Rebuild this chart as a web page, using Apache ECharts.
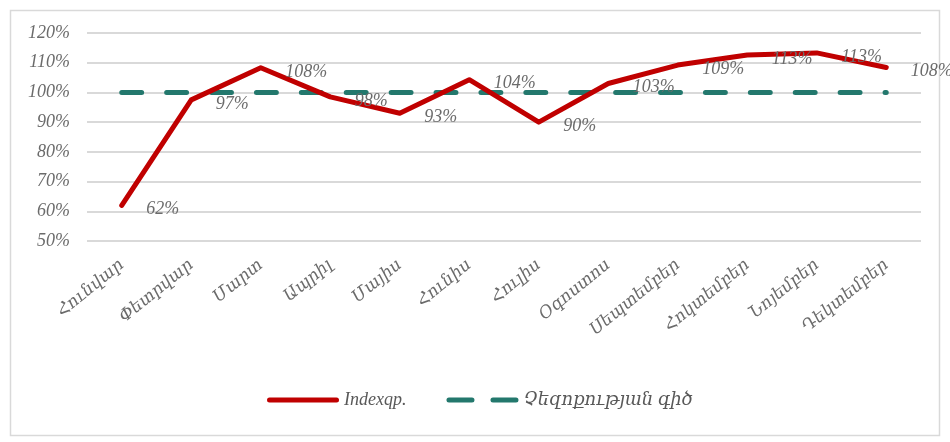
<!DOCTYPE html>
<html>
<head>
<meta charset="utf-8">
<script src="https://cdn.jsdelivr.net/npm/echarts@6/dist/echarts.min.js"></script>
<style>html,body{margin:0;padding:0;background:#fff}#c{width:950px;height:442px}</style>
</head>
<body>
<div id="c"></div>
<script>
const categories = ['Հունվար','Փետրվար','Մարտ','Ապրիլ','Մայիս','Հունիս','Հուլիս','Օգոստոս','Սեպտեմբեր','Հոկտեմբեր','Նոյեմբեր','Դեկտեմբեր'];
const indexValues = [62, 97.5, 108.3, 98.5, 93, 104.3, 90, 103, 109.2, 112.6, 113.3, 108.4];
const neutralValues = [100,100,100,100,100,100,100,100,100,100,100,100];
const labelTexts = ['62%','97%','108%','98%','93%','104%','90%','103%','109%','113%','113%','108%'];
const seriesNames = ['Indexqp.', 'Չեզոքության գիծ'];

const FONT = '"DejaVu Serif","Liberation Serif",serif';
const FONT2 = '"Liberation Serif","DejaVu Serif",serif';
const chart = echarts.init(document.getElementById('c'));
chart.setOption({
  animation: false,
  graphic: [{type:'rect', shape:{x:10.5,y:10.5,width:929,height:425}, style:{fill:'none', stroke:'#d9d9d9', lineWidth:1.5}, silent:true}],
  grid: {left: 87, right: 29, top: 33, height: 208},
  legend: {
    bottom: 28, left: 262, itemWidth: 72, itemHeight: 5, itemGap: 40,
    textStyle: {fontFamily: FONT2, fontStyle: 'italic', fontSize: 18, color: '#595959'},
    data: [
      {name: seriesNames[0], icon: 'path://M2.5,0 H69.5 A2.5,2.5 0 0 1 69.5,5 H2.5 A2.5,2.5 0 0 1 2.5,0 Z'},
      {name: seriesNames[1], icon: 'path://M2.5,0 H25.5 A2.5,2.5 0 0 1 25.5,5 H2.5 A2.5,2.5 0 0 1 2.5,0 Z M46.5,0 H69.5 A2.5,2.5 0 0 1 69.5,5 H46.5 A2.5,2.5 0 0 1 46.5,0 Z'}
    ]
  },
  xAxis: {
    type: 'category', data: categories, boundaryGap: true,
    axisLine: {show: false}, axisTick: {show: false},
    axisLabel: {rotate: 39, fontFamily: FONT, fontStyle: 'italic', fontSize: 17, color: '#6b6b6b', margin: 22, interval: 0}
  },
  yAxis: {
    type: 'value', min: 50, max: 120, interval: 10,
    axisLabel: {formatter: '{value}%', fontFamily: FONT2, fontStyle: 'italic', fontSize: 18, color: '#6b6b6b', margin: 17},
    splitLine: {lineStyle: {color: '#d9d9d9', width: 2}},
    axisLine: {show: false}, axisTick: {show: false}
  },
  series: [
    {
      name: seriesNames[0], type: 'line', data: indexValues, symbol: 'circle', symbolSize: 1, showSymbol: true, z: 3,
      lineStyle: {color: '#C00000', width: 5, cap: 'round', join: 'round'},
      itemStyle: {color: '#C00000'},
      label: {show: true, position: 'right', distance: 24, offset: [0, 4],
        formatter: p => labelTexts[p.dataIndex],
        fontFamily: FONT2, fontStyle: 'italic', fontSize: 18, color: '#6b6b6b'}
    },
    {
      name: seriesNames[1], type: 'line', data: neutralValues, symbol: 'none', z: 2,
      lineStyle: {color: '#23786D', width: 5, type: [19.9, 25], cap: 'round'},
      itemStyle: {color: '#23786D'}
    }
  ]
});
</script>
</body>
</html>
